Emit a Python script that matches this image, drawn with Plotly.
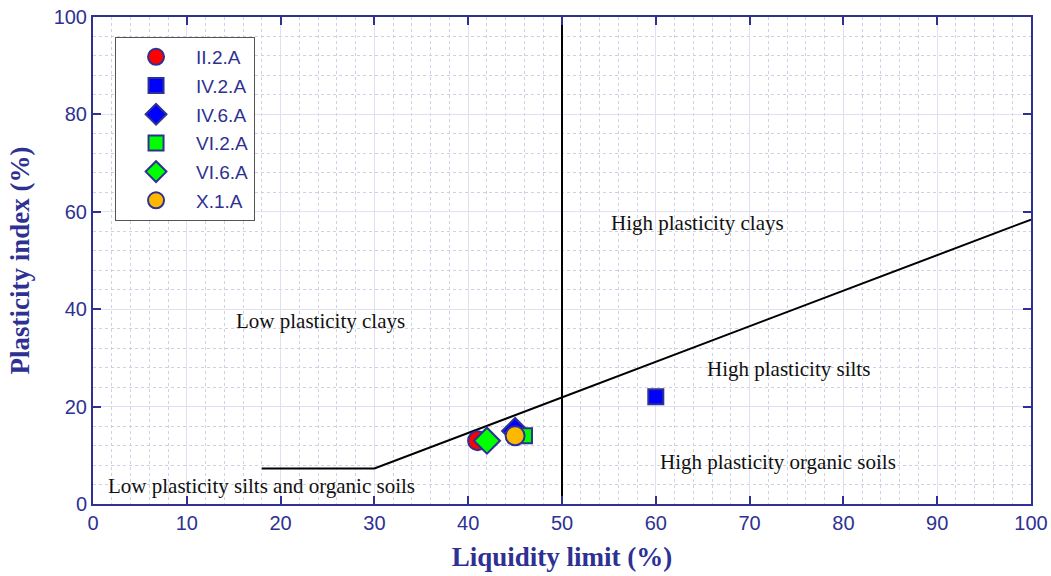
import plotly.graph_objects as go

samples = ["II.2.A", "IV.2.A", "IV.6.A", "VI.2.A", "VI.6.A", "X.1.A"]
liquidity_limit = [41, 60, 45, 46, 42, 45]
plasticity_index = [13, 22, 15, 14, 13, 14]
symbols = ["circle", "square", "diamond", "square", "diamond", "circle"]
fills = ["#ff0000", "#0000ff", "#0000ff", "#00ff00", "#00ff00", "#ffb800"]
sizes = [19, 15, 20, 15, 20, 19]

aline_x = [18, 30, 100]
aline_y = [7.3, 7.3, 58.4]
uline_x = [50, 50]
uline_y = [0, 100]

zone_labels = ["High plasticity clays", "Low plasticity clays", "High plasticity silts",
               "High plasticity organic soils", "Low plasticity silts and organic soils"]
zone_x = [64.4, 24.2, 74.1, 73.0, 18.0]
zone_y = [57.7, 37.6, 27.7, 8.6, 3.7]

navy = "#2e3192"
fig = go.Figure()
fig.add_trace(go.Scatter(x=aline_x, y=aline_y, mode="lines", line=dict(color="black", width=2), showlegend=False, hoverinfo="skip"))
fig.add_trace(go.Scatter(x=uline_x, y=uline_y, mode="lines", line=dict(color="black", width=2), showlegend=False, hoverinfo="skip"))
for i, s in enumerate(samples):
    fig.add_trace(go.Scatter(
        x=[liquidity_limit[i]], y=[plasticity_index[i]], mode="markers", name=s,
        legendgroup=s,
        marker=dict(symbol=symbols[i], color=fills[i], size=sizes[i], line=dict(color=navy, width=2))))

for t, x, y in zip(zone_labels, zone_x, zone_y):
    fig.add_annotation(x=x, y=y, text=t, showarrow=False,
                       font=dict(family="Liberation Serif", size=21, color="#111111"))

axis_common = dict(
    showline=True, linecolor=navy, linewidth=2, mirror="ticks",
    ticks="inside", ticklen=8, tickwidth=2, tickcolor=navy,
    showgrid=True, gridcolor="#e0e0f2", gridwidth=1, zeroline=False,
    tickfont=dict(family="Liberation Sans", size=20, color=navy),
    automargin=False,
)
fig.update_xaxes(range=[0, 100], dtick=10, **axis_common,
                 minor=dict(dtick=2, showgrid=True, gridcolor="#cfcfe6", griddash="dot", gridwidth=1),
                 title=dict(text="<b>Liquidity limit (%)</b>", font=dict(family="Liberation Serif", size=27, color=navy), standoff=14))
fig.update_yaxes(range=[0, 100], dtick=20, **axis_common,
                 minor=dict(dtick=4, showgrid=True, gridcolor="#cfcfe6", griddash="dot", gridwidth=1),
                 title=dict(text="<b>Plasticity index (%)</b>", font=dict(family="Liberation Serif", size=27, color=navy), standoff=16))

fig.update_layout(
    width=1051, height=576,
    margin=dict(l=93, r=20, t=17, b=72),
    plot_bgcolor="white", paper_bgcolor="white",
    legend=dict(x=0.0235, y=0.959, xanchor="left", yanchor="top",
                bgcolor="white", bordercolor="#555555", borderwidth=1,
                font=dict(family="Liberation Sans", size=19, color=navy),
                traceorder="grouped", tracegroupgap=1, itemwidth=70),
)
fig.write_html("out.html")
